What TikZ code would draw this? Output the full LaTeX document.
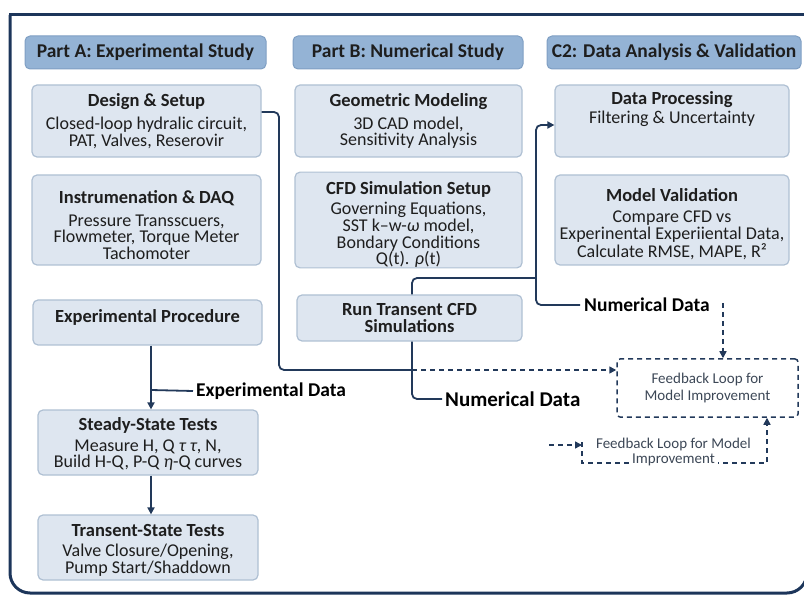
\documentclass[tikz,border=0pt]{standalone}
\usepackage{fontspec}
\setmainfont{Carlito}
\usetikzlibrary{arrows.meta}
\definecolor{navy}{HTML}{1C355A}
\definecolor{wire}{HTML}{22395A}
\definecolor{hdrfill}{HTML}{94B3D5}
\definecolor{hdrline}{HTML}{7F9FC3}
\definecolor{boxfill}{HTML}{DEE6F0}
\definecolor{boxline}{HTML}{AFC0D3}
\definecolor{txt}{HTML}{1E1E1E}
\definecolor{fbtxt}{HTML}{3C4756}
\newcommand{\bt}[1]{{\fontsize{18.5}{20}\selectfont\bfseries #1}}
\newcommand{\topx}[1]{\rule{0pt}{#1}}
\newcommand{\botx}[1]{\rule[-#1]{0pt}{#1}}
\begin{document}
\begin{tikzpicture}[x=1pt,y=-1pt,
  hdr/.style={draw=hdrline, line width=1pt, fill=hdrfill, rounded corners=5pt, minimum height=33pt, inner sep=0pt, font=\fontsize{19.5}{22}\selectfont\bfseries, text=txt},
  pbox/.style={draw=boxline, line width=1.2pt, fill=boxfill, rounded corners=5pt, inner sep=0pt, align=center, font=\fontsize{18}{16.7}\selectfont, text=txt},
  wireln/.style={draw=wire, line width=1.8pt, rounded corners=5pt},
  arr/.style={-{Triangle[length=7pt,width=7pt]}},
  dlabel/.style={font=\fontsize{19.5}{22}\selectfont\bfseries, text=black, inner sep=0pt, anchor=west},
  fbline/.style={draw=wire, line width=1.5pt, dash pattern=on 5pt off 4pt},
  fbbox/.style={fbline, rounded corners=3pt, align=center, font=\fontsize{15}{16.7}\selectfont, text=fbtxt, inner sep=0pt},
  fbtext/.style={font=\fontsize{15}{16.7}\selectfont, text=fbtxt, inner sep=1pt, align=center},
  framed/.style={draw=navy, line width=3pt}
  ]
\useasboundingbox (0,0) rectangle (804,596);
% outer frame
\draw[framed, rounded corners=20pt] (10,15) -- (10,593) -- (807,593) -- (807,15);
\draw[framed, line cap=rect] (10,15) -- (807,15);
% headers
\node[hdr, minimum width=241pt] (hA) at (145.5,52.5) {Part A: Experimental Study};
\node[hdr, minimum width=230pt] (hB) at (408,52.5) {Part B: Numerical Study};
\node[hdr, minimum width=254pt] (hC) at (674,52.5) {C2: Data Analysis \& Validation};
% column A
\node[pbox, minimum width=229pt, minimum height=72pt] (design) at (146.5,121)
  {\bt{Design \& Setup}\\[6pt] Closed-loop hydralic circuit,\\ PAT, Valves, Reserovir};
\node[pbox, minimum width=229pt, minimum height=90pt] (instr) at (146.5,220)
  {\topx{23pt}\bt{Instrumenation \& DAQ}\\[6pt] Pressure Transscuers,\\ Flowmeter, Torque Meter\\ Tachomoter};
\node[pbox, minimum width=229pt, minimum height=45pt] (proc) at (147.5,322.5)
  {\bt{Experimental Procedure}\botx{12pt}};
\node[pbox, minimum width=220pt, minimum height=65pt] (steady) at (148,442.5)
  {\topx{16pt}\bt{Steady-State Tests}\\[4pt] Measure H, Q {\itshape τ τ}, N,\\ Build H-Q, P-Q {\itshape η}-Q curves};
\node[pbox, minimum width=220pt, minimum height=65pt] (trans) at (148,547.5)
  {\topx{17.5pt}\bt{Transent-State Tests}\\[4pt] Valve Closure/Opening,\\ Pump Start/Shaddown};
% column B
\node[pbox, minimum width=227pt, minimum height=72pt] (geo) at (408.5,121)
  {\bt{Geometric Modeling}\\[6pt] 3D CAD model,\\ Sensitivity Analysis};
\node[pbox, minimum width=227pt, minimum height=90pt] (cfd) at (408.5,220)
  {\topx{22pt}\bt{CFD Simulation Setup}\\[4pt] Governing Equations,\\ SST k–w-{\itshape ω} model,\\ Bondary Conditions\\ Q(t). {\itshape ρ}(t)};
\node[pbox, minimum width=225pt, minimum height=46pt] (run) at (409.5,318)
  {\bt{Run Transent CFD}\\[1pt] \bt{Simulations}};
% column C
\node[pbox, minimum width=234pt, minimum height=72pt] (dproc) at (672,121)
  {\bt{Data Processing}\\[2pt] Filtering \& Uncertainty\botx{27pt}};
\node[pbox, minimum width=234pt, minimum height=90pt] (mval) at (672,220)
  {\topx{21pt}\bt{Model Validation}\\[5pt] Compare CFD vs\\ Experinental Experiiental Data,\\ Calculate RMSE, MAPE, R²};
% feedback box
\node[fbbox, minimum width=181pt, minimum height=58pt] (fb1) at (707.5,388)
  {Feedback Loop for\\ Model Improvement};
% labels
\node[dlabel] (expdata) at (196,391) {Experimental Data};
\node[dlabel, font=\fontsize{21}{24}\selectfont\bfseries] (numdata1) at (445,399) {Numerical Data};
\node[dlabel] (numdata2) at (584,305) {Numerical Data};
% coordinates
\coordinate (cross) at (412,370);
\coordinate (j1) at (151,390);
\coordinate (bj) at (536,278);
\coordinate (fbtop) at (723,303);
% connectors
\draw[wireln] ([yshift=9pt]design.east) -- (279,112) -- (279,370) -- (cross);
\draw[fbline, arr] (cross) -- ([yshift=18pt]fb1.west);
\draw[wireln, arr] ([xshift=3.5pt]proc.south) -- ([xshift=3.5pt]proc.south |- steady.north);
\draw[wireln] (j1) -- ([xshift=-3pt]expdata.west);
\draw[wireln, arr] ([xshift=3pt]steady.south) -- ([xshift=3pt]steady.south |- trans.north);
\draw[wireln] ([xshift=2.5pt]run.south) -- (412,399) -- ([xshift=-3pt]numdata1.west);
\draw[wireln] ([xshift=2.5pt]run.north) -- (412,278) -- (bj);
\draw[wireln, arr] ([xshift=-4pt]numdata2.west) -- (536,305) -- (536,125) -- ([yshift=-4pt]dproc.west);
\draw[fbline, arr] (fbtop) -- ([xshift=15.5pt]fb1.north);
% second feedback loop
\node[fbtext] (fb2a) at (673.5,445) {Feedback Loop for Model};
\coordinate (lpA) at (582,442);
\coordinate (lpB) at (582,463);
\coordinate (lpC) at (767,463);
\draw[fbline, arr] (lpA) -- (lpB) -- (lpC) -- ([xshift=59.5pt]fb1.south);
\node[fbtext, fill=white, inner xsep=3pt] (fb2b) at (673.5,460) {Improvement};
\coordinate (inA) at (549,445);
\draw[fbline, arr] (inA) -- (fb2a.west -| lpA);
\end{tikzpicture}
\end{document}
